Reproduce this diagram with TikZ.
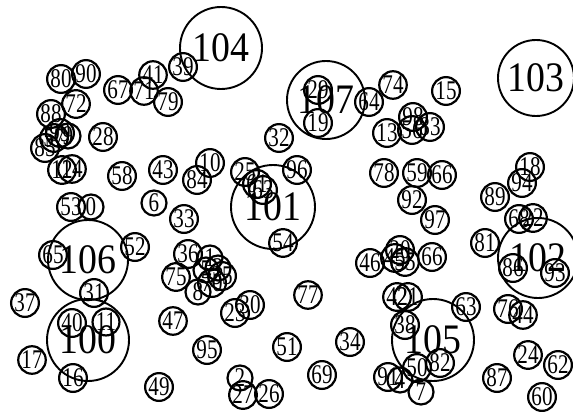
\documentclass[tikz,border=0pt]{standalone}
\usepackage{fontspec}
\newfontfamily\smf[FakeStretch=0.78]{Liberation Serif}
\newfontfamily\bgf[FakeStretch=0.9]{Liberation Serif}
\begin{document}
\begin{tikzpicture}[x=1pt,y=-1pt,
  sm/.style={circle,draw,line width=2.2pt,minimum size=25pt,inner sep=0pt,font=\smf\fontsize{27}{27}\selectfont},
  bg/.style={circle,draw,line width=1.9pt,minimum size=82pt,inner sep=0pt,font=\bgf\fontsize{42}{42}\selectfont}]
\useasboundingbox (0,0) rectangle (573,412);
% big circles
\node[bg] (b104) at (221,48) {104};
\node[bg,minimum size=78pt] (b107) at (326,100) {107};
\node[bg,minimum size=76pt] (b103) at (536,78) {103};
\node[bg,minimum size=84pt] (b101) at (273,207) {101};
\node[bg,minimum size=80pt] (b106) at (88,260) {106};
\node[bg] (b100) at (88,340) {100};
\node[bg] (b105) at (433,340) {105};
\node[bg,minimum size=80pt] (b102) at (538,258) {102};
% small circles
\node[sm] (s80) at (61,79) {80};
\node[sm] (s90) at (86,74) {90};
\node[sm] (s72) at (76,104) {72};
\node[sm] (s88) at (51,114) {88};
\node[sm] (s67) at (118,90) {67};
\node[sm] (s71) at (144,91) {71};
\node[sm] (s41) at (153,75) {41};
\node[sm] (s39) at (183,67) {39};
\node[sm] (s79) at (168,102) {79};
\node[sm] (s28) at (103,137) {28};
\node[sm] (s99) at (60,133) {99};
\node[sm] (s9) at (68,136) {9};
\node[sm] (s57) at (54,138) {57};
\node[sm] (s85) at (45,148) {85};
\node[sm] (s12) at (62,170) {12};
\node[sm] (s14) at (72,169) {14};
\node[sm] (s58) at (122,176) {58};
\node[sm] (s43) at (163,170) {43};
\node[sm] (s84) at (197,180) {84};
\node[sm] (s10) at (210,163) {10};
\node[sm] (s6) at (154,203) {6};
\node[sm] (s33) at (184,219) {33};
\node[sm] (s53) at (71,207) {53};
\node[sm] (s0) at (91,207) {0};
\node[sm] (s65) at (53,255) {65};
\node[sm] (s52) at (135,247) {52};
\node[sm] (s36) at (188,254) {36};
\node[sm] (s75) at (176,277) {75};
\node[sm] (s1) at (210,258) {1};
\node[sm] (s3) at (218,268) {3};
\node[sm] (s5) at (206,270) {5};
\node[sm] (s35) at (222,276) {35};
\node[sm] (s70) at (212,283) {70};
\node[sm] (s8) at (198,292) {8};
\node[sm] (s25) at (245,172) {25};
\node[sm] (s61) at (257,184) {61};
\node[sm] (s63a) at (263,190) {63};
\node[sm] (s96) at (297,170) {96};
\node[sm] (s32) at (279,138) {32};
\node[sm] (s54) at (283,243) {54};
\node[sm] (s29) at (318,90) {29};
\node[sm] (s19) at (318,123) {19};
\node[sm] (s64) at (369,102) {64};
\node[sm] (s74) at (393,85) {74};
\node[sm] (s15) at (446,91) {15};
\node[sm] (s13) at (387,133) {13};
\node[sm] (s98) at (413,117) {98};
\node[sm] (s56) at (412,130) {56};
\node[sm] (s83) at (430,127) {83};
\node[sm] (s78) at (384,173) {78};
\node[sm] (s59) at (417,173) {59};
\node[sm] (s66a) at (442,175) {66};
\node[sm] (s92) at (412,200) {92};
\node[sm] (s97) at (435,220) {97};
\node[sm] (s18) at (530,167) {18};
\node[sm] (s94) at (522,183) {94};
\node[sm] (s89) at (495,197) {89};
\node[sm] (s68) at (519,219) {68};
\node[sm] (s22) at (533,218) {22};
\node[sm] (s81) at (485,243) {81};
\node[sm] (s86) at (513,268) {86};
\node[sm] (s93) at (555,273) {93};
\node[sm] (s46) at (370,263) {46};
\node[sm] (s20) at (400,250) {20};
\node[sm] (s45) at (395,258) {45};
\node[sm] (s55) at (405,262) {55};
\node[sm] (s66b) at (432,257) {66};
\node[sm] (s77) at (308,295) {77};
\node[sm] (s23) at (235,313) {23};
\node[sm] (s30) at (250,305) {30};
\node[sm] (s47) at (173,321) {47};
\node[sm] (s95) at (207,350) {95};
\node[sm] (s51) at (287,347) {51};
\node[sm] (s34) at (350,342) {34};
\node[sm] (s69) at (322,375) {69};
\node[sm] (s2) at (240,378) {2};
\node[sm] (s27) at (243,395) {27};
\node[sm] (s26) at (269,394) {26};
\node[sm] (s49) at (159,387) {49};
\node[sm] (s37) at (25,303) {37};
\node[sm] (s31) at (94,293) {31};
\node[sm] (s40) at (72,323) {40};
\node[sm] (s11) at (106,322) {11};
\node[sm] (s17) at (32,360) {17};
\node[sm] (s16) at (73,378) {16};
\node[sm] (s42) at (397,297) {42};
\node[sm] (s21) at (408,297) {21};
\node[sm] (s38) at (405,325) {38};
\node[sm] (s63b) at (466,307) {63};
\node[sm] (s91) at (388,377) {91};
\node[sm] (s4) at (400,380) {4};
\node[sm] (s50) at (417,368) {50};
\node[sm] (s82) at (440,363) {82};
\node[sm] (s7) at (421,392) {7};
\node[sm] (s76) at (508,309) {76};
\node[sm] (s44) at (523,315) {44};
\node[sm] (s24) at (528,355) {24};
\node[sm] (s62) at (558,365) {62};
\node[sm] (s87) at (497,378) {87};
\node[sm] (s60) at (542,397) {60};
\end{tikzpicture}
\end{document}
